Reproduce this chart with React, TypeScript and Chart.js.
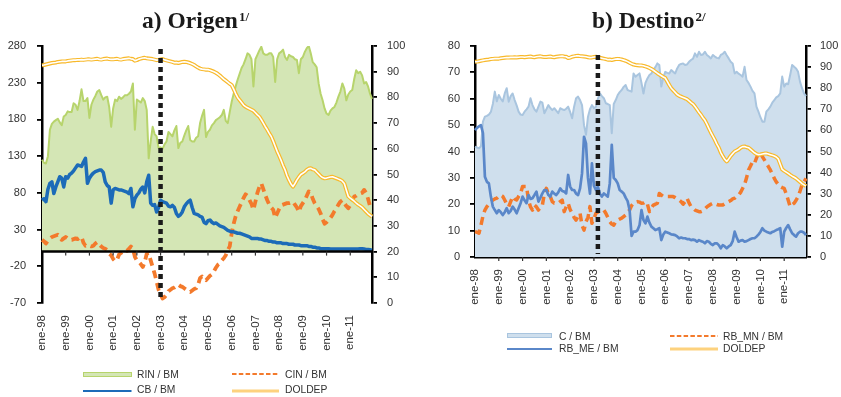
import React, { useEffect, useRef } from 'react';
import { Chart, registerables } from 'chart.js';

Chart.register(...registerables);

// ---------- categories ----------
const MONTHS = ['ene', 'feb', 'mar', 'abr', 'may', 'jun', 'jul', 'ago', 'sep', 'oct', 'nov', 'dic'];
const YEARS = ['98', '99', '00', '01', '02', '03', '04', '05', '06', '07', '08', '09', '10', '11'];
const CATEGORIES = YEARS.flatMap((y) => MONTHS.map((m) => `${m}-${y}`));

// ---------- tick labels ----------
const ORIGEN_LEFT_TICKS = [-70, -20, 30, 80, 130, 180, 230, 280];

// ---------- a) Origen (left axis) ----------
const RIN_BM = [
  125, 121, 120, 130, 166, 174, 177, 179, 181, 176, 172, 184,
  186, 191, 190, 190, 202, 200, 193, 205, 221, 205, 205, 209,
  182, 200, 207, 212, 218, 220, 213, 207, 210, 211, 197, 170,
  195, 207, 205, 211, 208, 210, 213, 213, 215, 218, 229, 166,
  207, 205, 203, 209, 205, 193, 127, 150, 170, 160, 157, 141,
  142, 140, 146, 150, 163, 160, 157, 165, 171, 141, 148, 150,
  158, 165, 171, 152, 150, 150, 155, 157, 175, 185, 193, 156,
  163, 166, 172, 175, 179, 181, 183, 186, 193, 178, 175, 190,
  204, 215, 225, 234, 242, 250, 255, 262, 270, 268, 262, 225,
  262, 268, 274, 279, 270, 268, 268, 270, 270, 265, 231, 262,
  270, 272, 275, 265, 261, 268, 266, 265, 262, 261, 243, 262,
  265, 272, 277, 280, 270, 258, 255, 251, 229, 215, 206, 195,
  188, 186, 192, 195, 197, 203, 211, 218, 229, 222, 206, 214,
  218, 220, 235, 247, 243, 245, 240, 229, 231, 225, 215, 208,
];

const CB_BM = [
  70, 72, 68, 85, 93, 95, 79, 88, 95, 102, 100, 88,
  102, 100, 105, 107, 110, 114, 118, 117, 116, 122, 127, 93,
  100, 104, 107, 109, 110, 111, 111, 108, 95, 90, 88, 66,
  84, 86, 85, 84, 84, 83, 82, 81, 79, 86, 61, 72,
  77, 80, 85, 88, 80, 95, 104, 66, 63, 64, 54, 60,
  70, 68, 67, 66, 62, 61, 63, 60, 52, 48, 50, 54,
  61, 65, 68, 70, 60, 52, 51, 50, 48, 47, 40, 38,
  42, 43, 40, 38, 39, 37, 35, 34, 33, 31, 29, 28,
  27, 27, 26, 25, 25, 24, 23, 22, 21, 20, 18, 18,
  18, 18, 17, 17, 16, 15, 15, 14, 14, 13, 13, 12,
  12, 12, 11, 11, 11, 10, 10, 10, 9, 9, 9, 8,
  8, 8, 8, 7, 7, 6, 6, 5, 5, 4, 4, 4,
  4, 4, 3.5, 3.5, 3.5, 3.5, 3.5, 3.5, 3.5, 3.5, 3.5, 3.5,
  3.5, 3.5, 3.5, 3.5, 3.5, 4, 4, 3.5, 3, 3, 2.5, 2,
];

const CIN_BM = [
  16, 14, 11, 15, 18, 20, 21, 22, 23, 20, 16, 18,
  20, 18, 16, 16, 17, 18, 17, 19, 20, 12, 8, 9,
  8, 7, 8, 11, 13, 10, 7, 5, 4, 2, -3, -5,
  -10, -13, -11, -4, -2, 0, 2, 1, 4, 7, 4, -7,
  -12, -14, -17, -21, -14, -3, -2, -12, -21, -30, -41, -52,
  -58, -64, -62, -59, -54, -52, -50, -49, -47, -45, -47, -48,
  -50, -52, -54, -55, -53, -51, -50, -45, -36, -34, -37, -39,
  -36, -33, -31, -27, -22, -18, -16, -12, -9, -5, 2, 7,
  25, 38, 48, 55, 61, 67, 73, 78, 76, 70, 65, 57,
  68, 80, 88, 93, 85, 77, 70, 64, 60, 57, 46, 52,
  58, 63, 64, 65, 66, 66, 67, 68, 64, 60, 54, 62,
  66, 70, 76, 82, 80, 72, 66, 62, 58, 52, 44, 38,
  40, 43, 46, 50, 55, 59, 64, 68, 70, 66, 62, 59,
  63, 70, 75, 76, 78, 79, 80, 84, 80, 72, 62, 58,
];

// ---------- DOLDEP (right axis, both panels) ----------
const DOLDEP = [
  92.5, 92.6, 92.8, 93, 93.2, 93.4, 93.5, 93.6, 93.8, 93.9, 94, 94,
  94, 94.2, 94.3, 94.4, 94.5, 94.5, 94.6, 94.6, 94.7, 94.6, 94.7, 94.8,
  94.8, 94.7, 94.8, 94.9, 95, 94.8, 94.7, 94.9, 95, 95.1, 94.9, 94.8,
  94.8, 94.9, 95, 94.8, 94.7, 94.9, 95, 95.1, 95.2, 95, 94.9, 94.3,
  94.5, 94.9, 95.1, 95.3, 95.4, 95.2, 95.1, 95, 94.9, 94.7, 94.5, 94.6,
  94.8, 94.9, 94.6, 94.4, 94.2, 94, 93.8, 93.5, 93.6, 93.4, 93.6, 93.8,
  93.9, 93.8, 93.6, 93.3, 93, 92.6, 92.1, 91.6, 91.2, 91, 90.9, 90.8,
  90.8, 90.6, 90.3, 90, 89.6, 89.1, 88.5, 87.8, 87.1, 86.5, 85.9, 85.3,
  84.8, 83.2, 81.5, 80, 79, 78, 77, 76.4, 76, 75.6, 75.2, 74.8,
  74, 73.2, 72.5, 71.3, 70, 68.6, 67.4, 66, 64.8, 63, 61, 59,
  57.3, 55.5, 53.5, 51.8, 49.5, 47.8, 46.3, 45.3, 46.5, 47.9, 49, 50,
  50.5, 51, 51.8, 52.3, 52.4, 52, 51.8, 51, 50.2, 49.4, 48.8, 48.5,
  48.6, 48.8, 49, 49.1, 48.8, 48.5, 48.2, 47.9, 47.4, 46.5, 44, 41.5,
  40.8, 40.2, 39.6, 38.9, 38.3, 37.8, 37.2, 36.4, 35.6, 34.8, 34.2, 33.6,
];

// ---------- b) Destino (left axis) ----------
const C_BM = [
  41.8, 41.5, 41.2, 42, 51.3, 53.2, 53.5, 54, 55, 58, 62.7, 59,
  61.4, 60, 59, 62, 64, 58.9, 61, 62, 59.5, 57.5, 55.1, 54,
  53.8, 55.1, 56, 57, 60.2, 57.6, 56, 55.1, 57, 58.9, 58.5, 54.5,
  56, 57.6, 56.5, 55.7, 56.4, 55.5, 54.5, 56.4, 56, 55.7, 56.2, 57,
  55, 52.6, 57, 60.2, 60.8, 59.5, 57.6, 50, 46.3, 53.2, 56, 57.6,
  56.4, 57, 60, 62, 61, 60.2, 58.3, 58, 57.6, 46.9, 58, 59.5,
  61.4, 62.5, 63.3, 64.5, 65.2, 63.3, 63, 62.7, 69.6, 68.4, 69, 69.6,
  66, 62, 66, 67.7, 69, 69.6, 70.9, 72, 73.4, 72.8, 64.6, 68,
  70.2, 69.8, 69.6, 70.9, 70.2, 69.6, 71.5, 72.8, 73.2, 73.4, 72.8, 73,
  74, 74.7, 75.2, 77.2, 75.9, 77.8, 76.6, 76.8, 77.8, 76.6, 76, 75.3,
  76.6, 76, 75.5, 75.3, 76.6, 77, 77.8, 76.5, 75.3, 74, 73.4, 69.6,
  70.2, 69.5, 69, 68.4, 72.1, 67.1, 66, 64.6, 63, 62, 57, 55.1,
  53, 51.3, 51.3, 55.1, 56, 57, 58.5, 59.5, 60.5, 61, 62, 68.4,
  64.6, 65.8, 65.5, 69, 72.8, 72.1, 71.5, 70.2, 66.4, 64, 62, 61,
];

const RB_ME_BM = [
  48.1, 49, 49.5, 50, 47, 30.4, 28.5, 27.9, 22.9, 19.1, 17.8, 16.6,
  17.8, 17, 15.9, 17, 18.5, 16.6, 17.5, 19.1, 18, 16.6, 18.5, 20.4,
  22.9, 21.5, 20.4, 23.5, 22, 22.3, 23.5, 24.8, 21, 22.5, 24.1, 25.4,
  25.4, 23.5, 22.9, 24.8, 24, 23.5, 24.5, 26, 25, 24.8, 24.1, 31.1,
  26.7, 25.4, 25.4, 24, 23.5, 26, 31.7, 45.6, 43.1, 30, 24, 35.5,
  27, 25.4, 26.7, 24, 22.9, 24.1, 23.5, 22.9, 27.9, 42.5, 30, 29.2,
  27.9, 25.4, 24.8, 24.1, 22.5, 21.2, 17.8, 8, 9.6, 9.6, 10.2, 12,
  17.8, 14, 12.8, 15.3, 13, 11.5, 10.9, 10.2, 10.5, 10.9, 6.4, 8.5,
  9.6, 9.3, 9, 8.6, 8.5, 8.3, 7.8, 7.1, 7.4, 7.1, 7.1, 6.8,
  6.8, 6.4, 6.6, 6.4, 5.8, 6.4, 6, 5.8, 5.2, 6, 5.8, 5,
  4.5, 5.2, 5.2, 4.5, 3.3, 4.5, 4, 3.3, 4, 4.5, 6, 9.6,
  7.5, 5.8, 6.2, 6.4, 5.8, 6, 6.4, 6.8, 7.1, 7.1, 7.7, 8.5,
  9.5, 10.9, 10, 9.6, 9.3, 9, 9.5, 9.8, 10.2, 10.5, 10.9, 3.9,
  9.6, 11, 12.1, 10.5, 9, 8.3, 7.7, 9, 9.6, 9.6, 9.2, 8.3,
];

const RB_MN_BM = [
  9.6, 9.4, 9, 12, 15.5, 17.8, 19.1, 20, 21, 21.6, 22, 22.3,
  23, 23.5, 23, 21.6, 20, 19.1, 21, 22.9, 22, 21.6, 23, 24.1,
  26.7, 26.7, 26.7, 21.6, 19, 17.8, 19.7, 19, 17.8, 19, 19.7, 24,
  26, 24, 22.9, 21, 20.4, 20.4, 20.4, 21, 21.6, 17.2, 19, 20.4,
  18, 16.6, 15, 14, 15.5, 16.6, 12, 10.2, 13.4, 15, 19.1, 12.8,
  14.5, 16.6, 17, 17.5, 17.8, 17.8, 16.6, 15, 13.4, 12.5, 12.1, 13.5,
  14, 14.4, 14.7, 15.3, 15.9, 17, 17.8, 19.5, 20.4, 20.8, 21, 20.8,
  20.4, 20.5, 21, 20, 17.2, 18.5, 19.7, 20, 20.4, 24.1, 23.5, 23,
  22.9, 22.9, 22.9, 22.9, 22.9, 22.5, 22, 21.6, 21, 20, 21, 22.3,
  20.5, 19.1, 18.5, 17.8, 17.5, 17.2, 17.2, 17.5, 18.2, 19, 19.5, 20,
  20.4, 20.2, 19.9, 19.7, 19.7, 19.7, 20.2, 20.6, 21, 21.4, 22, 22.3,
  23, 23.5, 24.5, 26, 27.5, 30, 33, 34.5, 36.1, 35.5, 37.5, 39.3,
  39.5, 38, 36.8, 35.5, 34.3, 33, 31.5, 29.8, 28.5, 27.5, 26.7, 26.3,
  26, 24, 21.6, 19.1, 19.8, 20.4, 21.5, 22.9, 25, 27.3, 28.5, 29.8,
];

// index of the dotted vertical marker (early 2003)
const ORIGEN_MARKER = 60;
const DESTINO_MARKER = 62;

const FONT = "'Liberation Sans', Arial, Helvetica, sans-serif";
const SERIF = "'Liberation Serif', 'Times New Roman', serif";
const TICK_COLOR = '#333';

function yAxis(position: string, min: number, max: number, width: number, padding: number, extra: any = {}) {
  return {
    type: 'linear',
    position,
    min,
    max,
    z: 1,
    border: { display: true, color: '#000', width: 2.5 },
    grid: { drawOnChartArea: false, drawTicks: true, tickLength: 5, color: '#000', lineWidth: 1.8 },
    ticks: { color: TICK_COLOR, font: { family: FONT, size: 11 }, padding, stepSize: 10 },
    afterFit: (s: any) => {
      s.width = width;
    },
    ...extra,
  };
}

function xAxis(height: number, border: boolean) {
  return {
    type: 'category',
    labels: CATEGORIES,
    offset: false,
    z: 1,
    grid: { display: false, drawTicks: false },
    border: { display: border, color: '#000', width: 2.5 },
    ticks: {
      autoSkip: false,
      minRotation: 90,
      maxRotation: 90,
      padding: 12,
      color: TICK_COLOR,
      font: { family: FONT, size: 11.5 },
      callback: (_v: any, i: number) => (i % 12 === 0 ? CATEGORIES[i] : ''),
    },
    afterFit: (s: any) => {
      s.height = height;
    },
  };
}

function overlayPlugin(markerIndex: number, markerTop: number, markerBottom: number, zeroLine: boolean) {
  return {
    id: 'overlay',
    afterDatasetsDraw(chart: any) {
      const { ctx, chartArea: a, scales } = chart;
      const xs = scales.x;
      ctx.save();
      let axisY = a.bottom;
      if (zeroLine) {
        axisY = scales.y.getPixelForValue(0);
        ctx.setLineDash([]);
        ctx.strokeStyle = '#000';
        ctx.lineWidth = 2.5;
        ctx.beginPath();
        ctx.moveTo(a.left, axisY);
        ctx.lineTo(a.right, axisY);
        ctx.stroke();
      }
      ctx.strokeStyle = '#333';
      ctx.lineWidth = 1.2;
      for (let i = 12; i < CATEGORIES.length; i += 12) {
        const px = xs.getPixelForValue(i);
        ctx.beginPath();
        ctx.moveTo(px, axisY);
        ctx.lineTo(px, axisY + 4);
        ctx.stroke();
      }
      const mx = xs.getPixelForValue(markerIndex);
      ctx.strokeStyle = '#1a1a1a';
      ctx.lineWidth = 4.5;
      ctx.setLineDash([5, 4]);
      ctx.beginPath();
      ctx.moveTo(mx, a.top + markerTop);
      ctx.lineTo(mx, a.bottom - markerBottom);
      ctx.stroke();
      ctx.restore();
    },
  };
}

const lineBase = { pointRadius: 0, pointHoverRadius: 0, tension: 0, fill: false, borderJoinStyle: 'round' };

function baseOptions(scales: any) {
  return {
    responsive: false,
    animation: false,
    events: [],
    layout: { padding: { top: 46, left: 0, right: 0, bottom: 0 } },
    plugins: { legend: { display: false }, tooltip: { enabled: false }, title: { display: false } },
    scales,
  };
}

const legendText: React.CSSProperties = {
  position: 'absolute',
  fontFamily: FONT,
  fontSize: 10.3,
  color: '#333',
  lineHeight: '12px',
  whiteSpace: 'nowrap',
};

function LineSym(props: { left: number; y: number; width: number; color: string; lw: number; dash?: string }) {
  const { left, y, width, color, lw, dash } = props;
  return (
    <svg style={{ position: 'absolute', left, top: y - 4 }} width={width} height={8}>
      <line x1={0} x2={width} y1={4} y2={4} stroke={color} strokeWidth={lw} strokeDasharray={dash} />
    </svg>
  );
}

function BoxSym(props: { left: number; top: number; width: number; height: number; fill: string; border: string }) {
  const { left, top, width, height, fill, border } = props;
  return (
    <div
      style={{
        position: 'absolute',
        left,
        top,
        width,
        height,
        boxSizing: 'border-box',
        background: fill,
        border: `1.2px solid ${border}`,
      }}
    />
  );
}

export default function App() {
  const leftRef = useRef<HTMLCanvasElement>(null);
  const rightRef = useRef<HTMLCanvasElement>(null);

  useEffect(() => {
    const left = new Chart(leftRef.current as HTMLCanvasElement, {
      type: 'line',
      data: {
        labels: CATEGORIES,
        datasets: [
          { ...lineBase, label: 'RIN / BM', data: RIN_BM, yAxisID: 'y', borderColor: '#b7d46c', backgroundColor: '#d4e6b5', borderWidth: 2, fill: 'origin', order: 5 },
          { ...lineBase, label: 'CIN / BM', data: CIN_BM, yAxisID: 'y', borderColor: '#f37a2c', borderWidth: 3.8, borderDash: [8, 5], order: 3 },
          { ...lineBase, label: 'CB / BM', data: CB_BM, yAxisID: 'y', borderColor: '#1c6bb8', borderWidth: 3.5, order: 2 },
          { ...lineBase, label: 'DOLDEP', data: DOLDEP, yAxisID: 'y1', borderColor: '#f8b92b', borderWidth: 4, order: 1 },
          { ...lineBase, label: 'DOLDEP ', data: DOLDEP, yAxisID: 'y1', borderColor: '#ffffff', borderWidth: 1.6, order: 0 },
        ],
      },
      options: baseOptions({
        x: xAxis(94, false),
        y: yAxis('left', -70, 280, 42, 11, {
          afterBuildTicks: (s: any) => {
            s.ticks = ORIGEN_LEFT_TICKS.map((v) => ({ value: v }));
          },
        }),
        y1: yAxis('right', 0, 100, 48, 10),
      }) as any,
      plugins: [overlayPlugin(ORIGEN_MARKER, 3, 2, true)],
    } as any);

    const right = new Chart(rightRef.current as HTMLCanvasElement, {
      type: 'line',
      data: {
        labels: CATEGORIES,
        datasets: [
          { ...lineBase, label: 'C / BM', data: C_BM, yAxisID: 'y', borderColor: '#a9c5df', backgroundColor: '#cfdfed', borderWidth: 2, fill: 'origin', order: 5 },
          { ...lineBase, label: 'RB_MN / BM', data: RB_MN_BM, yAxisID: 'y', borderColor: '#f37a2c', borderWidth: 3.5, borderDash: [8, 5], order: 3 },
          { ...lineBase, label: 'RB_ME / BM', data: RB_ME_BM, yAxisID: 'y', borderColor: '#5a87c9', borderWidth: 2.7, order: 2 },
          { ...lineBase, label: 'DOLDEP', data: DOLDEP, yAxisID: 'y1', borderColor: '#f8b92b', borderWidth: 4, order: 1 },
          { ...lineBase, label: 'DOLDEP ', data: DOLDEP, yAxisID: 'y1', borderColor: '#ffffff', borderWidth: 1.6, order: 0 },
        ],
      },
      options: baseOptions({
        x: xAxis(140, true),
        y: yAxis('left', 0, 80, 55, 10),
        y1: yAxis('right', 0, 100, 35, 9),
      }) as any,
      plugins: [overlayPlugin(DESTINO_MARKER, 9, 3, false)],
    } as any);

    return () => {
      left.destroy();
      right.destroy();
    };
  }, []);

  const titleStyle: React.CSSProperties = {
    position: 'absolute',
    top: 9,
    fontFamily: SERIF,
    fontWeight: 'bold',
    fontSize: 23.5,
    lineHeight: '23px',
    color: '#1a1a1a',
    whiteSpace: 'nowrap',
  };
  const supStyle: React.CSSProperties = { fontSize: 13, position: 'relative', top: -7, marginLeft: 1 };

  return (
    <div style={{ position: 'absolute', left: 0, top: 0, width: 841, height: 397, background: '#fff', overflow: 'hidden' }}>
      <canvas ref={leftRef} width={420} height={397} style={{ position: 'absolute', left: 0, top: 0 }} />
      <canvas ref={rightRef} width={421} height={397} style={{ position: 'absolute', left: 420, top: 0 }} />

      <div style={{ ...titleStyle, left: 142 }}>
        a) Origen<span style={supStyle}>1/</span>
      </div>
      <div style={{ ...titleStyle, left: 592 }}>
        b) Destino<span style={supStyle}>2/</span>
      </div>

      {/* legend a) */}
      <BoxSym left={83} top={371.5} width={48.5} height={5.5} fill="#d4e6b5" border="#b7d46c" />
      <div style={{ ...legendText, left: 137, top: 368.6 }}>RIN / BM</div>
      <LineSym left={232} y={374.3} width={47} color="#f37a2c" lw={2} dash="4.5 2.3" />
      <div style={{ ...legendText, left: 285, top: 368.6 }}>CIN / BM</div>
      <LineSym left={83} y={390.7} width={48.5} color="#1c6bb8" lw={2} />
      <div style={{ ...legendText, left: 137, top: 384 }}>CB / BM</div>
      <LineSym left={232} y={390.5} width={47} color="#fdd27e" lw={3} />
      <div style={{ ...legendText, left: 285, top: 384 }}>DOLDEP</div>

      {/* legend b) */}
      <BoxSym left={507} top={333.3} width={45} height={4.5} fill="#cfdfed" border="#a9c5df" />
      <div style={{ ...legendText, left: 559, top: 331 }}>C / BM</div>
      <LineSym left={670} y={336} width={48} color="#f37a2c" lw={2} dash="4.5 2.3" />
      <div style={{ ...legendText, left: 723, top: 331 }}>RB_MN / BM</div>
      <LineSym left={507} y={349} width={45} color="#5a87c9" lw={2} />
      <div style={{ ...legendText, left: 559, top: 343.3 }}>RB_ME / BM</div>
      <LineSym left={670} y={349} width={48} color="#fdd27e" lw={3} />
      <div style={{ ...legendText, left: 723, top: 343.3 }}>DOLDEP</div>
    </div>
  );
}
